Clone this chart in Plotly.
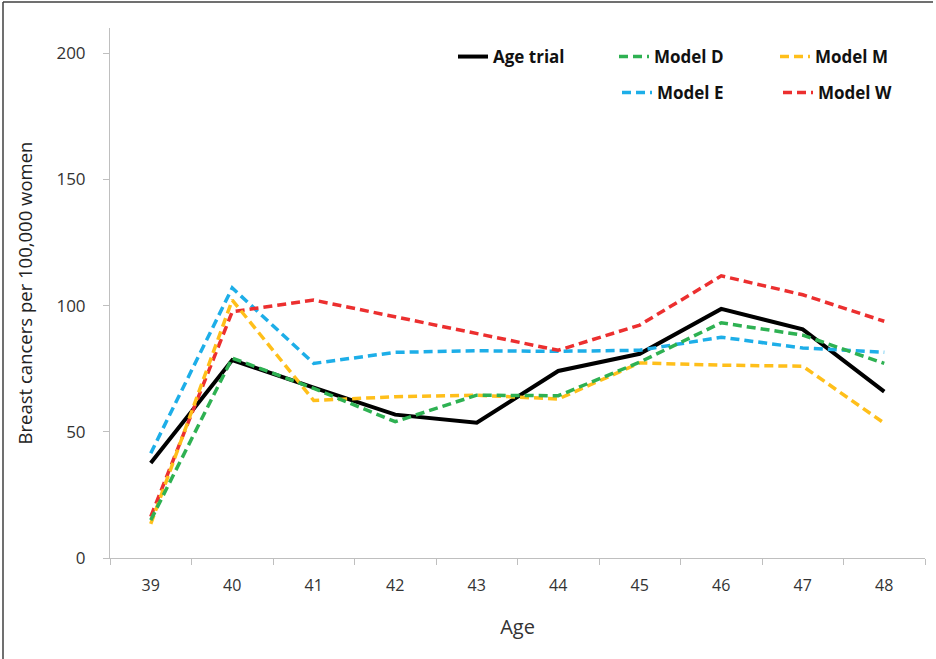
import plotly.graph_objects as go

ages = ["39", "40", "41", "42", "43", "44", "45", "46", "47", "48"]
age_trial = [37.6, 78.4, 67.5, 56.8, 53.6, 74.1, 80.9, 98.7, 90.6, 65.9]
model_d = [15.0, 79.2, 67.2, 54.0, 64.5, 64.3, 77.6, 93.2, 88.3, 77.1]
model_m = [13.5, 102.2, 62.4, 63.9, 64.5, 63.0, 77.3, 76.4, 76.0, 53.4]
model_e = [41.5, 107.0, 77.1, 81.5, 82.1, 81.9, 82.3, 87.5, 83.2, 81.5]
model_w = [16.4, 97.6, 102.2, 95.5, 88.8, 82.3, 92.3, 111.8, 104.3, 93.8]

FONT = "Open Sans"
dash = "9px,5px"

L, R, T, B = 110, 11, 28, 101
W, H = 936, 659
pw, ph = W - L - R, H - T - B


def px(x):
    return (x - L) / pw


def py(y):
    return (H - B - y) / ph


fig = go.Figure()
fig.add_trace(go.Scatter(x=ages, y=age_trial, name="Age trial", mode="lines",
                         line=dict(color="black", width=4), legend="legend", legendrank=1))
fig.add_trace(go.Scatter(x=ages, y=model_e, name="Model E", mode="lines",
                         line=dict(color="#1DAEE8", width=3.5, dash=dash), legend="legend2", legendrank=1))
fig.add_trace(go.Scatter(x=ages, y=model_w, name="Model W", mode="lines",
                         line=dict(color="#EC2F2F", width=3.5, dash=dash), legend="legend2", legendrank=2))
fig.add_trace(go.Scatter(x=ages, y=model_m, name="Model M", mode="lines",
                         line=dict(color="#FFBF1A", width=3.5, dash=dash), legend="legend", legendrank=3))
fig.add_trace(go.Scatter(x=ages, y=model_d, name="Model D", mode="lines",
                         line=dict(color="#2EB152", width=3.5, dash=dash), legend="legend", legendrank=2))

legend_common = dict(orientation="h", bgcolor="rgba(0,0,0,0)",
                     font=dict(family=FONT, size=17, color="#111111", weight="bold"),
                     entrywidth=116, entrywidthmode="pixels", xanchor="left", yanchor="middle",
                     traceorder="normal", itemwidth=30)

fig.update_layout(
    width=W, height=H,
    margin=dict(l=L, r=R, t=T, b=B, autoexpand=False),
    plot_bgcolor="white", paper_bgcolor="white",
    showlegend=True,
    legend=dict(**legend_common, x=px(453), y=py(57)),
    legend2=dict(**legend_common, x=px(617), y=py(93)),
    xaxis=dict(
        type="category", range=[-0.5, 9.5], showgrid=False, showline=True,
        linecolor="#BFBFBF", linewidth=1,
        ticks="outside", ticklen=6, tickcolor="#BFBFBF", tickson="boundaries",
        tickfont=dict(family=FONT, size=16, color="#333333"),
        ticklabelstandoff=13,
        title=dict(text="Age", font=dict(family=FONT, size=20, color="#333333"), standoff=24),
        zeroline=False,
    ),
    yaxis=dict(
        range=[0, 210], tickvals=[0, 50, 100, 150, 200], showgrid=False, showline=True,
        linecolor="#BFBFBF", linewidth=1, ticks="outside", ticklen=6, tickcolor="#BFBFBF",
        tickfont=dict(family=FONT, size=17, color="#333333"), ticklabelstandoff=14,
        title=dict(text="Breast cancers per 100,000 women",
                   font=dict(family=FONT, size=18.5, color="#222222"), standoff=18),
        zeroline=False,
    ),
    shapes=[
        dict(type="line", xref="paper", yref="paper", x0=px(3), x1=px(3), y0=py(2), y1=py(700),
             line=dict(color="#404040", width=1.5)),
        dict(type="line", xref="paper", yref="paper", x0=px(3), x1=px(933), y0=py(2), y1=py(2),
             line=dict(color="#404040", width=1.5)),
    ],
)

fig.write_html("out.html", config={"displayModeBar": False},
               post_script="document.body.style.margin='0px';")
